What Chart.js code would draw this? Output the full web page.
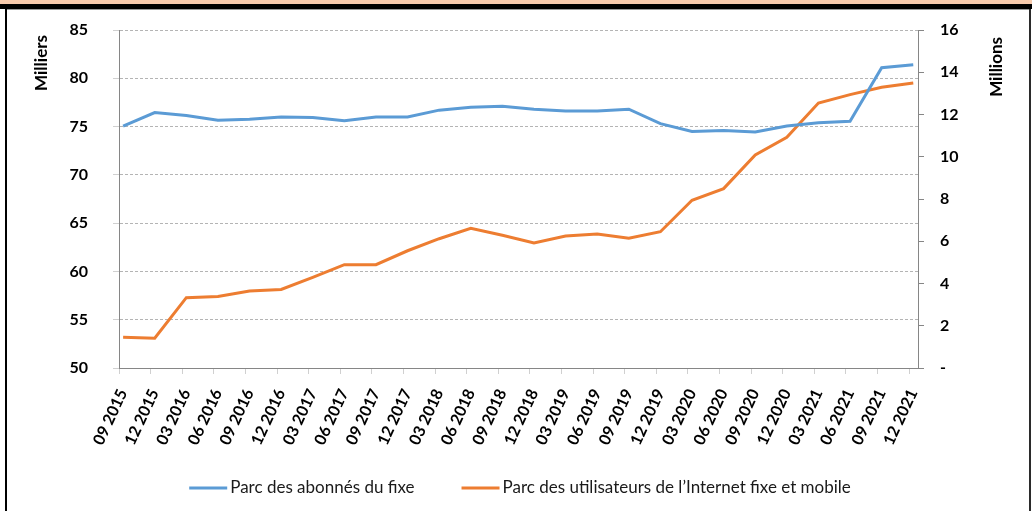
<!DOCTYPE html>
<html>
<head>
<meta charset="utf-8">
<script src="https://cdn.jsdelivr.net/npm/chart.js@4.4.0/dist/chart.umd.min.js"></script>
<style>
  html, body { margin: 0; padding: 0; background: #fff; }
  body { width: 1032px; height: 511px; position: relative; overflow: hidden; }
  .band-peach { position: absolute; left: 0; top: 0; width: 1032px; height: 4px; background: #f8cbad; }
  .band-black { position: absolute; left: 0; top: 4px; width: 1032px; height: 5px; background: #000; }
  .edge-top { position: absolute; left: 7px; top: 9px; width: 1022px; height: 1px; background: #9a9a9a; }
  .edge-left { position: absolute; left: 5px; top: 9px; width: 2px; height: 502px; background: #000; }
  .edge-right { position: absolute; left: 1029px; top: 9px; width: 2px; height: 502px; background: #2b2b2b; }
  #wrap { position: absolute; left: 0; top: 0; width: 1032px; height: 511px; }
</style>
</head>
<body>
<div class="band-peach"></div>
<div class="band-black"></div>
<div class="edge-top"></div>
<div class="edge-left"></div>
<div class="edge-right"></div>
<div id="wrap"><canvas id="parcChart" width="1032" height="511"></canvas></div>

<script>
// données
const periodes = [
    '09 2015', '12 2015', '03 2016', '06 2016', '09 2016', '12 2016',
    '03 2017', '06 2017', '09 2017', '12 2017', '03 2018', '06 2018',
    '09 2018', '12 2018', '03 2019', '06 2019', '09 2019', '12 2019',
    '03 2020', '06 2020', '09 2020', '12 2020', '03 2021', '06 2021',
    '09 2021', '12 2021'
];

// Parc des abonnés du fixe (milliers, axe gauche)
const abonnesFixe = [
    75.05, 76.45, 76.15, 75.65, 75.75, 76.0, 75.95, 75.6, 76.0, 76.0,
    76.7, 77.0, 77.1, 76.8, 76.6, 76.6, 76.8, 75.3, 74.5, 74.6,
    74.45, 75.05, 75.4, 75.55, 81.1, 81.4
];

// Parc des utilisateurs de l'Internet fixe et mobile (millions, axe droit)
const utilisateursInternet = [
    1.45, 1.41, 3.33, 3.38, 3.64, 3.72, 4.29, 4.89, 4.89, 5.55,
    6.12, 6.61, 6.28, 5.92, 6.25, 6.34, 6.14, 6.45, 7.94, 8.49,
    10.08, 10.92, 12.54, 12.94, 13.29, 13.49
];

const ticksMilliers = [50, 55, 60, 65, 70, 75, 80, 85];
const ticksMillions = [0, 2, 4, 6, 8, 10, 12, 14, 16];

const libelleFixe = 'Parc des abonnés du fixe';
const libelleInternet = 'Parc des utilisateurs de l\u2019Internet fixe et mobile';
const titreGauche = 'Milliers';
const titreDroite = 'Millions';

// mise en page
const PAD_LEFT = 20;
const AREA_LEFT = 119;
const AREA_RIGHT = 918;
const PAD_RIGHT = 14;
const X_SHIFT = -0.13;   // graduations entre les points, comme Excel

const BLEU = '#5b9bd5';
const ORANGE = '#ed7d31';
const FONT = 'Lato';

Chart.defaults.font.family = FONT;

// titres d'axes et légende dessinés à la main
const decorPlugin = {
    id: 'decor',
    afterDraw(chart) {
        const ctx = chart.ctx;
        ctx.save();
        ctx.fillStyle = '#000';
        ctx.font = 'bold 17px ' + FONT;
        ctx.textBaseline = 'middle';
        ctx.textAlign = 'right';

        ctx.save();
        ctx.translate(42, 35);
        ctx.rotate(-Math.PI / 2);
        ctx.fillText(titreGauche, 0, 0);
        ctx.restore();

        ctx.save();
        ctx.translate(997, 37);
        ctx.rotate(-Math.PI / 2);
        ctx.fillText(titreDroite, 0, 0);
        ctx.restore();

        // légende
        ctx.font = '17px ' + FONT;
        ctx.textAlign = 'left';
        const sample = 38, gapText = 3, gapItem = 47, y = 488;
        const items = chart.data.datasets.map(ds => ({
            label: ds.label, color: ds.borderColor, w: ctx.measureText(ds.label).width
        }));
        let total = 0;
        items.forEach((it, i) => { total += sample + gapText + it.w + (i ? gapItem : 0); });
        let x = 520 - total / 2;
        items.forEach(it => {
            ctx.strokeStyle = it.color;
            ctx.lineWidth = 3;
            ctx.beginPath();
            ctx.moveTo(x, y);
            ctx.lineTo(x + sample, y);
            ctx.stroke();
            ctx.fillStyle = '#1a1a1a';
            ctx.fillText(it.label, x + sample + gapText, y);
            x += sample + gapText + it.w + gapItem;
        });
        ctx.restore();
    }
};

const tickFont = { family: FONT, size: 16, weight: 'bold' };

new Chart(document.getElementById('parcChart'), {
    type: 'line',
    data: {
        datasets: [
            {
                label: libelleFixe,
                data: abonnesFixe.map((v, i) => ({ x: i, y: v })),
                borderColor: BLEU,
                borderWidth: 3,
                pointRadius: 0,
                tension: 0,
                yAxisID: 'y'
            },
            {
                label: libelleInternet,
                data: utilisateursInternet.map((v, i) => ({ x: i, y: v })),
                borderColor: ORANGE,
                borderWidth: 3,
                pointRadius: 0,
                tension: 0,
                yAxisID: 'y1'
            }
        ]
    },
    options: {
        responsive: false,
        animation: false,
        layout: {
            padding: { left: PAD_LEFT, right: PAD_RIGHT, top: 30, bottom: 53 }
        },
        plugins: {
            legend: { display: false },
            tooltip: { enabled: false }
        },
        scales: {
            x: {
                type: 'linear',
                min: X_SHIFT,
                max: periodes.length - 1 + 0.15,
                afterBuildTicks: scale => {
                    scale.ticks = periodes.map((p, i) => ({ value: i + X_SHIFT }));
                },
                afterFit: scale => { scale.height = 90; },
                ticks: {
                    autoSkip: false,
                    minRotation: 65,
                    maxRotation: 65,
                    padding: 12,
                    labelOffset: 4,
                    color: '#000',
                    font: tickFont,
                    callback: v => periodes[Math.round(v)]
                },
                grid: {
                    drawOnChartArea: false,
                    tickLength: 6,
                    color: '#d0d0d0'
                },
                border: { color: '#868686' }
            },
            y: {
                position: 'left',
                min: 50,
                max: 85,
                afterBuildTicks: scale => {
                    scale.ticks = ticksMilliers.map(v => ({ value: v }));
                },
                afterFit: scale => {
                    scale.width = AREA_LEFT - PAD_LEFT;
                    // le grand écart des libellés ne doit pas repousser la zone du tracé
                    scale.paddingTop = 10;
                    scale.paddingBottom = 10;
                },
                ticks: {
                    padding: 25,
                    color: '#000',
                    font: tickFont
                },
                grid: {
                    color: '#b4b4b4',
                    tickLength: 6,
                    tickColor: '#d0d0d0',
                    tickBorderDash: []
                },
                border: { color: '#868686', dash: [3, 2] }
            },
            y1: {
                position: 'right',
                min: 0,
                max: 16,
                afterBuildTicks: scale => {
                    scale.ticks = ticksMillions.map(v => ({ value: v }));
                },
                afterFit: scale => {
                    scale.width = 1032 - PAD_RIGHT - AREA_RIGHT;
                    scale.paddingTop = 10;
                    scale.paddingBottom = 10;
                },
                ticks: {
                    padding: 16,
                    color: '#000',
                    font: tickFont,
                    callback: v => (v === 0 ? '-' : v)
                },
                grid: {
                    drawOnChartArea: false,
                    tickLength: 6,
                    color: '#868686'
                },
                border: { color: '#868686' }
            }
        }
    },
    plugins: [decorPlugin]
});
</script>
</body>
</html>
